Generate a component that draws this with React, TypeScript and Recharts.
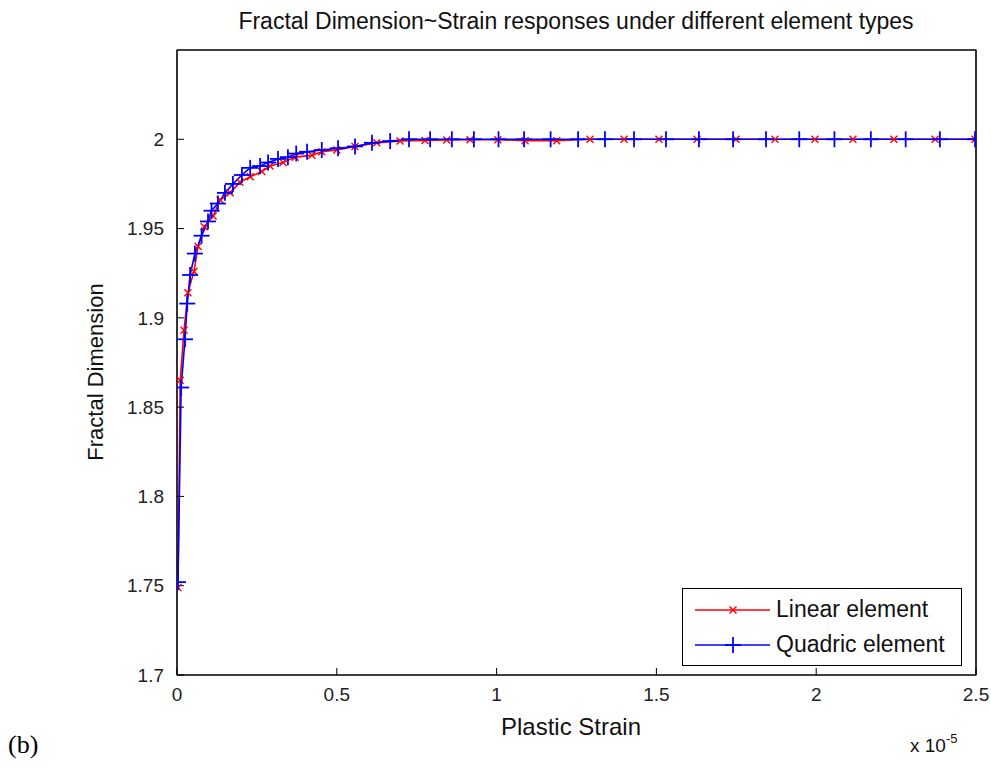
import React from 'react';
import { LineChart, Line, XAxis, YAxis, ReferenceArea } from 'recharts';

// strain values are in units of 1e-5
const linearX = [
  0.003, 0.01, 0.022, 0.034, 0.053, 0.066, 0.085, 0.113, 0.135, 0.166,
  0.197, 0.229, 0.265, 0.291, 0.332, 0.37, 0.422, 0.453, 0.5, 0.557,
  0.625, 0.698, 0.776, 0.844, 0.917, 1.004, 1.089, 1.188, 1.292, 1.399,
  1.508, 1.627, 1.749, 1.871, 1.996, 2.115, 2.243, 2.372, 2.497
];
const linearY = [
  1.749, 1.865, 1.893, 1.914, 1.926, 1.94, 1.951, 1.957, 1.966, 1.97,
  1.976, 1.979, 1.982, 1.985, 1.987, 1.99, 1.991, 1.993, 1.994, 1.996,
  1.998, 1.999, 1.9993, 1.9996, 1.9997, 1.9998, 1.9992, 1.9992, 2.0, 2.0,
  2.0, 2.0, 2.0, 2.0, 2.0, 2.0, 2.0, 2.0, 2.0
];

const quadricX = [
  0.003, 0.013, 0.025, 0.032, 0.041, 0.056, 0.077, 0.097, 0.108, 0.128,
  0.15, 0.175, 0.203, 0.229, 0.26, 0.285, 0.316, 0.347, 0.373, 0.407,
  0.453, 0.504, 0.557, 0.61, 0.667, 0.726, 0.792, 0.86, 0.929, 1.006,
  1.086, 1.169, 1.255, 1.339, 1.43, 1.53, 1.633, 1.74, 1.843, 1.947,
  2.057, 2.171, 2.28, 2.387, 2.497
];
const quadricY = [
  1.752, 1.861, 1.888, 1.908, 1.924, 1.936, 1.946, 1.954, 1.96, 1.964,
  1.97, 1.975, 1.98, 1.984, 1.985, 1.987, 1.989, 1.99, 1.992, 1.993,
  1.994, 1.995, 1.996, 1.998, 1.999, 2.0, 2.0, 2.0, 2.0, 2.0,
  2.0, 2.0, 2.0, 2.0, 2.0, 2.0, 2.0, 2.0, 2.0, 2.0,
  2.0, 2.0, 2.0, 2.0, 2.0
];

const xTicks = [0, 0.5, 1, 1.5, 2, 2.5];
const yTicks = [1.7, 1.75, 1.8, 1.85, 1.9, 1.95, 2];

const linearData = linearX.map((x, i) => ({ x, y: linearY[i] }));
const quadricData = quadricX.map((x, i) => ({ x, y: quadricY[i] }));

const FONT = 'Arial, "Liberation Sans", Helvetica, sans-serif';
const tickStyle = { fontSize: 19, fill: '#222', fontFamily: FONT };

const CrossDot = (props: any) => {
  const { cx, cy } = props;
  if (cx == null || cy == null) return null;
  const s = 3.5;
  return (
    <g>
      <line x1={cx - s} y1={cy - s} x2={cx + s} y2={cy + s} stroke="#ff0000" strokeWidth={1.4} />
      <line x1={cx - s} y1={cy + s} x2={cx + s} y2={cy - s} stroke="#ff0000" strokeWidth={1.4} />
    </g>
  );
};

const PlusDot = (props: any) => {
  const { cx, cy } = props;
  if (cx == null || cy == null) return null;
  const s = 8;
  return (
    <g>
      <line x1={cx - s} y1={cy} x2={cx + s} y2={cy} stroke="#0000ff" strokeWidth={1.8} />
      <line x1={cx} y1={cy - s} x2={cx} y2={cy + s} stroke="#0000ff" strokeWidth={1.8} />
    </g>
  );
};

// MATLAB style legend box
const LegendBox = () => (
  <div
    style={{
      position: 'absolute',
      left: 682,
      top: 588,
      width: 280,
      height: 78,
      border: '1px solid #000',
      background: '#fff',
      fontFamily: FONT,
      fontSize: 23,
      color: '#111',
      boxSizing: 'border-box',
      paddingTop: 3
    }}
  >
    <div style={{ display: 'flex', alignItems: 'center', height: 35 }}>
      <svg width={93} height={20}>
        <line x1={12} y1={10} x2={87} y2={10} stroke="#ff0000" strokeWidth={1.6} />
        <CrossDot cx={50} cy={10} />
      </svg>
      <span>Linear element</span>
    </div>
    <div style={{ display: 'flex', alignItems: 'center', height: 35 }}>
      <svg width={93} height={20}>
        <line x1={12} y1={10} x2={87} y2={10} stroke="#0000ff" strokeWidth={1.6} />
        <PlusDot cx={50} cy={10} />
      </svg>
      <span>Quadric element</span>
    </div>
  </div>
);

export default function App() {
  return (
    <div style={{ position: 'absolute', left: 0, top: 0, width: 991, height: 769, background: '#fff' }}>
      <LineChart
        width={991}
        height={769}
        margin={{ top: 49, right: 14, bottom: 64, left: 117 }}
      >
        <XAxis
          dataKey="x"
          type="number"
          domain={[0, 2.5]}
          ticks={xTicks}
          allowDataOverflow
          height={30}
          stroke="#000"
          tickSize={-7}
          tickMargin={20}
          tick={tickStyle}
        />
        <XAxis
          xAxisId="top"
          orientation="top"
          type="number"
          domain={[0, 2.5]}
          ticks={xTicks}
          height={1}
          stroke="#000"
          tickSize={-7}
          tick={false}
        />
        <YAxis
          type="number"
          domain={[1.7, 2.05]}
          ticks={yTicks}
          allowDataOverflow
          width={60}
          stroke="#000"
          tickSize={-7}
          tickMargin={20}
          tick={tickStyle}
          tickFormatter={(v: number) => String(v)}
        />
        <YAxis
          yAxisId="right"
          orientation="right"
          type="number"
          domain={[1.7, 2.05]}
          ticks={yTicks}
          width={1}
          stroke="#000"
          tickSize={-7}
          tick={false}
        />
        <ReferenceArea
          x1={0}
          x2={2.5}
          y1={1.7}
          y2={2.05}
          fill="none"
          stroke="#000"
          strokeWidth={1.2}
          ifOverflow="visible"
        />
        <Line
          data={linearData}
          dataKey="y"
          name="Linear element"
          stroke="#ff0000"
          strokeWidth={1.6}
          dot={<CrossDot />}
          isAnimationActive={false}
        />
        <Line
          data={quadricData}
          dataKey="y"
          name="Quadric element"
          stroke="#0000ff"
          strokeWidth={1.6}
          dot={<PlusDot />}
          isAnimationActive={false}
        />
      </LineChart>

      <LegendBox />

      <div style={{ position: 'absolute', left: 0, width: 1152, top: 8, textAlign: 'center', fontFamily: FONT, fontSize: 23, color: '#111' }}>
        Fractal Dimension~Strain responses under different element types
      </div>
      <div style={{ position: 'absolute', left: 0, width: 1142, top: 713, textAlign: 'center', fontFamily: FONT, fontSize: 24, color: '#111' }}>
        Plastic Strain
      </div>
      <div
        style={{
          position: 'absolute',
          left: 96,
          top: 372,
          transform: 'translate(-50%, -50%) rotate(-90deg)',
          whiteSpace: 'nowrap',
          fontFamily: FONT,
          fontSize: 22,
          color: '#111'
        }}
      >
        Fractal Dimension
      </div>
      <div style={{ position: 'absolute', left: 910, top: 733, fontFamily: FONT, fontSize: 19, color: '#111', whiteSpace: 'nowrap' }}>
        x 10<sup style={{ fontSize: 13, position: 'relative', top: -2 }}>-5</sup>
      </div>
      <div style={{ position: 'absolute', left: 8, top: 730, fontFamily: '"Liberation Serif", "Times New Roman", serif', fontSize: 26, color: '#000' }}>
        (b)
      </div>
    </div>
  );
}
